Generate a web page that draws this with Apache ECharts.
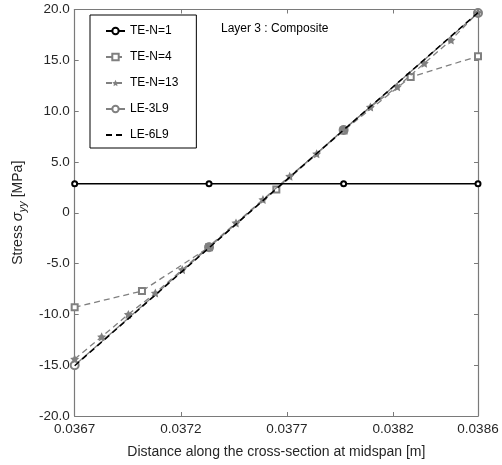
<!DOCTYPE html>
<html>
<head>
<meta charset="utf-8">
<script src="https://cdn.jsdelivr.net/npm/echarts@6/dist/echarts.min.js"></script>
<style>html,body{margin:0;padding:0;background:#fff}#c{width:502px;height:465px}</style>
</head>
<body>
<div id="c"></div>
<script>
const xTicks = [0.0367, 0.0372, 0.0377, 0.0382, 0.0386];
const yTicks = [-20, -15, -10, -5, 0, 5, 10, 15, 20];

const xTE1 = [0.0367, 0.037333, 0.037967, 0.0386];
const yTE1 = [2.85, 2.85, 2.85, 2.85];

const xTE4 = [0.0367, 0.037017, 0.037333, 0.03765, 0.037967, 0.038283, 0.0386];
const yTE4 = [-9.3, -7.7, -3.4, 2.3, 8.1, 13.35, 15.4];

const xTE13 = [0.0367, 0.036827, 0.036953, 0.03708, 0.037207, 0.037333, 0.03746, 0.037587,
               0.037713, 0.03784, 0.037967, 0.038093, 0.03822, 0.038347, 0.038473, 0.0386];
const yTE13 = [-14.4, -12.2, -10.0, -7.9, -5.6, -3.3, -1.0, 1.3,
               3.6, 5.8, 8.2, 10.4, 12.4, 14.7, 17.0, 19.7];

const xLE3 = [0.0367, 0.037333, 0.037967, 0.0386];
const yLE3 = [-15.0, -3.4, 8.15, 19.65];

const xLE6 = [0.0367, 0.037017, 0.037333, 0.03765, 0.037967, 0.038283, 0.0386];
const yLE6 = [-15.05, -9.25, -3.45, 2.35, 8.15, 13.9, 19.7];

const names = ['TE-N=1', 'TE-N=4', 'TE-N=13', 'LE-3L9', 'LE-6L9'];

function pairs(xs, ys) { return xs.map((x, i) => [x, ys[i]]); }

const FONT = 'Liberation Sans, Arial, sans-serif';
const AX = '#7a7a7a';
const GRAY = '#808080';
const TXT = '#262626';
const star = 'path://M0,-10 L2.94,-4.05 9.51,-3.09 4.76,1.55 5.88,8.09 0,5 -5.88,8.09 -4.76,1.55 -9.51,-3.09 -2.94,-4.05 Z';

const chart = echarts.init(document.getElementById('c'), null, {renderer: 'canvas'});
const xMin = xTicks[0], xMax = xTicks[xTicks.length - 1];
const yMin = yTicks[0], yMax = yTicks[yTicks.length - 1];

const baseAxisLine = {show: true, onZero: false, lineStyle: {color: AX, width: 1.2}};

chart.setOption({
  animation: false,
  backgroundColor: '#fff',
  textStyle: {fontFamily: FONT},
  grid: {left: 73.5, right: 24, top: 9.5, bottom: 49, containLabel: false},
  legend: {
    data: [
      {name: names[0]}, {name: names[1]}, {name: names[2]}, {name: names[3]},
      {name: names[4], itemStyle: {opacity: 0}}
    ],
    orient: 'vertical',
    left: 90, top: 15,
    padding: [10, 18, 7, 15],
    itemGap: 14,
    itemWidth: 19, itemHeight: 8,
    borderColor: '#000', borderWidth: 1, borderRadius: 0,
    backgroundColor: '#fff',
    textStyle: {fontFamily: FONT, fontSize: 12, color: '#000'}
  },
  graphic: [{
    type: 'text', left: 221, top: 23,
    style: {text: 'Layer 3 : Composite', font: '12px ' + FONT, fill: '#000'}
  }],
  xAxis: [{
    type: 'value', min: xMin, max: xMax, position: 'bottom',
    axisLine: baseAxisLine,
    axisTick: {show: true, inside: true, length: 4, lineStyle: {color: AX}, customValues: xTicks},
    axisLabel: {customValues: xTicks, color: TXT, fontSize: 13.5, margin: 6, fontFamily: FONT,
                formatter: v => v.toFixed(4)},
    splitLine: {show: false},
    name: 'Distance along the cross-section at midspan [m]',
    nameLocation: 'middle', nameGap: 29,
    nameTextStyle: {fontSize: 14, color: TXT, fontFamily: FONT}
  }, {
    type: 'value', min: xMin, max: xMax, position: 'top',
    axisLine: baseAxisLine,
    axisTick: {show: true, inside: true, length: 4, lineStyle: {color: AX}, customValues: xTicks},
    axisLabel: {show: false},
    splitLine: {show: false}
  }],
  yAxis: [{
    type: 'value', min: yMin, max: yMax, interval: 5, position: 'left',
    axisLine: baseAxisLine,
    axisTick: {show: true, inside: true, length: 4, lineStyle: {color: AX}},
    axisLabel: {color: TXT, fontSize: 13.5, margin: 5, fontFamily: FONT,
                formatter: v => v === 0 ? '0' : v.toFixed(1)},
    splitLine: {show: false},
    name: '{n|Stress }{s|σ}{b|yy}{n| [MPa]}',
    nameLocation: 'middle', nameGap: 46,
    nameTextStyle: {
      color: TXT, fontFamily: FONT,
      rich: {
        n: {fontSize: 14, color: TXT, fontFamily: FONT, lineHeight: 20, verticalAlign: 'middle'},
        s: {fontSize: 15, color: TXT, fontFamily: FONT, fontStyle: 'italic', lineHeight: 20, verticalAlign: 'middle'},
        b: {fontSize: 11, color: TXT, fontFamily: FONT, fontStyle: 'italic', lineHeight: 20, verticalAlign: 'bottom', padding: [9, 0, 0, 0]}
      }
    }
  }, {
    type: 'value', min: yMin, max: yMax, interval: 5, position: 'right',
    axisLine: baseAxisLine,
    axisTick: {show: true, inside: true, length: 4, lineStyle: {color: AX}},
    axisLabel: {show: false},
    splitLine: {show: false}
  }],
  series: [
    {
      name: names[3], type: 'line', data: pairs(xLE3, yLE3), z: 2,
      symbol: 'emptyCircle', symbolSize: 8,
      lineStyle: {color: GRAY, width: 1.3},
      itemStyle: {color: GRAY, borderColor: GRAY, borderWidth: 1.2}
    },
    {
      name: names[1], type: 'line', data: pairs(xTE4, yTE4), z: 3,
      symbol: 'emptyRect', symbolSize: 6,
      lineStyle: {color: GRAY, width: 1.3, type: [6, 4]},
      itemStyle: {color: GRAY, borderColor: GRAY, borderWidth: 1.2}
    },
    {
      name: names[2], type: 'line', data: pairs(xTE13, yTE13), z: 4,
      symbol: star, symbolSize: 9,
      lineStyle: {color: GRAY, width: 1.3, type: [6, 4]},
      itemStyle: {color: GRAY, borderWidth: 0}
    },
    {
      name: names[4], type: 'line', data: pairs(xLE6, yLE6), z: 5,
      symbol: 'none', showSymbol: false,
      lineStyle: {color: '#000', width: 1.5, type: [6, 4]},
      itemStyle: {color: '#000'}
    },
    {
      name: names[0], type: 'line', data: pairs(xTE1, yTE1), z: 6,
      symbol: 'emptyCircle', symbolSize: 5,
      lineStyle: {color: '#000', width: 1.5},
      itemStyle: {color: '#000', borderColor: '#000', borderWidth: 1.5}
    }
  ]
});
</script>
</body>
</html>
